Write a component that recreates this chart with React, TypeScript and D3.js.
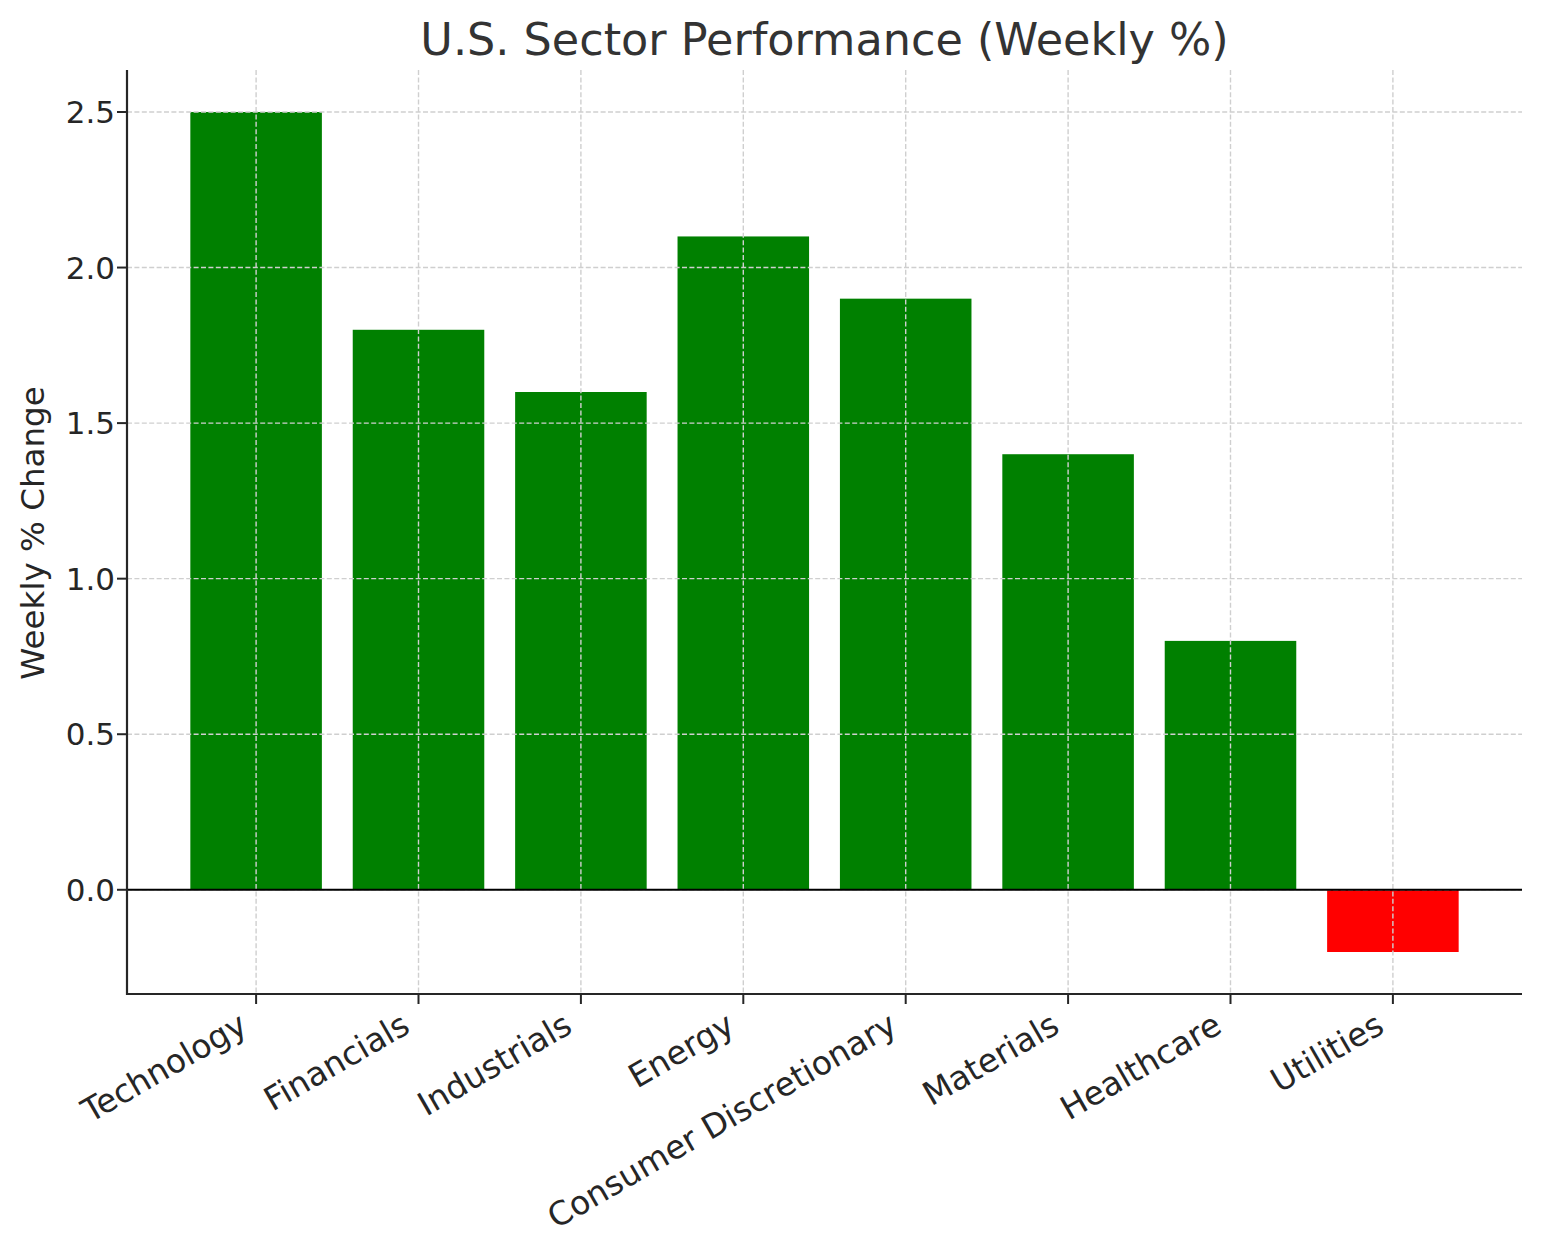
import React from 'react';
import * as d3 from 'd3';

const SECTORS = [
    "Technology",
    "Financials",
    "Industrials",
    "Energy",
    "Consumer Discretionary",
    "Materials",
    "Healthcare",
    "Utilities"
];
const WEEKLY_CHANGE = [2.5, 1.8, 1.6, 2.1, 1.9, 1.4, 0.8, -0.2];
const Y_TICKS = [0.0, 0.5, 1.0, 1.5, 2.0, 2.5];

const W = 1542;
const H = 1254;
const margin = { top: 70, right: 20, bottom: 260, left: 127 };
const FONT = "'DejaVu Sans', sans-serif";

export default function App() {
    const x0 = margin.left;
    const x1 = W - margin.right;
    const y0 = H - margin.bottom;
    const y1 = margin.top;

    const xScale = d3.scaleBand<string>()
        .domain(SECTORS)
        .range([x0, x1])
        .paddingInner(0.19)
        .paddingOuter(0.39);

    const yScale = d3.scaleLinear()
        .domain([-0.335, 2.635])
        .range([y0, y1]);

    const fmt = d3.format(".1f");
    const tickFont = 31;
    const xTickFont = 32.8;
    const gridColor = "#cfcfcf";
    const ink = "#262626";

    return (
        <svg width={W} height={H} style={{ position: "absolute", left: 0, top: 0, background: "white" }} fontFamily={FONT}>
            {/* bars */}
            {SECTORS.map((s, i) => {
                const v = WEEKLY_CHANGE[i];
                const top = yScale(Math.max(0, v));
                const bottom = yScale(Math.min(0, v));
                return (
                    <rect key={s} x={xScale(s)} y={top} width={xScale.bandwidth()} height={bottom - top}
                        fill={v >= 0 ? "#008000" : "#ff0000"} />
                );
            })}

            {/* grid */}
            {Y_TICKS.map(t => (
                <line key={"gy" + t} x1={x0} x2={x1} y1={yScale(t)} y2={yScale(t)}
                    stroke={gridColor} strokeWidth={1.4} strokeDasharray="5,2.4" />
            ))}
            {SECTORS.map(s => {
                const cx = xScale(s)! + xScale.bandwidth() / 2;
                return <line key={"gx" + s} x1={cx} x2={cx} y1={y1} y2={y0}
                    stroke={gridColor} strokeWidth={1.4} strokeDasharray="5,2.4" />;
            })}

            {/* zero line */}
            <line x1={x0} x2={x1} y1={yScale(0)} y2={yScale(0)} stroke="black" strokeWidth={2} />

            {/* spines */}
            <line x1={x0} x2={x0} y1={y1} y2={y0 + 1} stroke={ink} strokeWidth={2.2} />
            <line x1={x0 - 1} x2={x1} y1={y0} y2={y0} stroke={ink} strokeWidth={2.2} />

            {/* y ticks */}
            {Y_TICKS.map(t => (
                <g key={"yt" + t} transform={`translate(${x0},${yScale(t)})`}>
                    <line x1={-10} x2={0} stroke={ink} strokeWidth={2} />
                    <text x={-12} dy="0.36em" textAnchor="end" fontSize={tickFont} fill={ink}>{fmt(t)}</text>
                </g>
            ))}

            {/* x ticks */}
            {SECTORS.map(s => {
                const cx = xScale(s)! + xScale.bandwidth() / 2;
                const px = cx - 22;
                return (
                    <g key={"xt" + s}>
                        <line x1={cx} x2={cx} y1={y0} y2={y0 + 10} stroke={ink} strokeWidth={2} />
                        <text transform={`translate(${px},${y0 + 11}) rotate(-30)`} dy="0.93em"
                            textAnchor="end" fontSize={xTickFont} fill={ink}>{s}</text>
                    </g>
                );
            })}

            {/* y label */}
            <text transform={`translate(44,533) rotate(-90)`} textAnchor="middle"
                fontSize={32.5} fill={ink}>Weekly % Change</text>

            {/* title */}
            <text x={(x0 + x1) / 2} y={55} textAnchor="middle" fontSize={44.5} fill="#333333">
                U.S. Sector Performance (Weekly %)
            </text>
        </svg>
    );
}
